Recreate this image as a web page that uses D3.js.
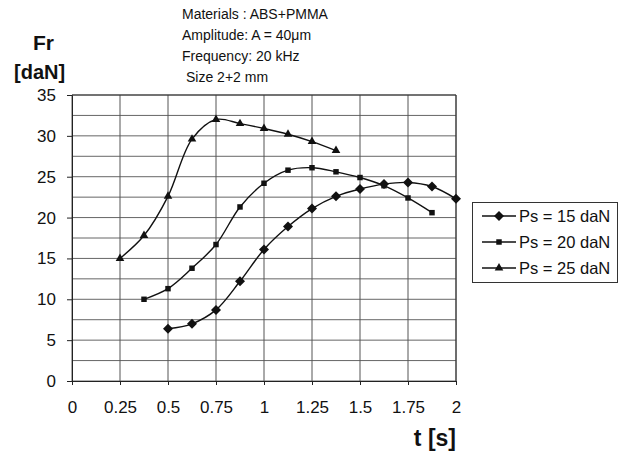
<!DOCTYPE html>
<html><head><meta charset="utf-8">
<script src="https://cdn.jsdelivr.net/npm/d3@7"></script>
<style>body{margin:0;background:#fff}svg{display:block}text{font-family:"Liberation Sans",Arial,sans-serif;fill:#111}</style>
</head><body><svg id="c" width="628" height="452"></svg>
<script>
const xTicks = [0, 0.25, 0.5, 0.75, 1, 1.25, 1.5, 1.75, 2];
const yTicks = [0, 5, 10, 15, 20, 25, 30, 35];
const seriesNames = ["Ps = 15 daN", "Ps = 20 daN", "Ps = 25 daN"];
const t15 = [0.5, 0.625, 0.75, 0.875, 1.0, 1.125, 1.25, 1.375, 1.5, 1.625, 1.75, 1.875, 2.0];
const f15 = [6.4, 7.0, 8.7, 12.2, 16.1, 18.9, 21.1, 22.6, 23.5, 24.1, 24.3, 23.8, 22.3];
const t20 = [0.375, 0.5, 0.625, 0.75, 0.875, 1.0, 1.125, 1.25, 1.375, 1.5, 1.625, 1.75, 1.875];
const f20 = [10.0, 11.3, 13.8, 16.7, 21.3, 24.2, 25.8, 26.1, 25.6, 24.9, 23.9, 22.4, 20.6];
const t25 = [0.25, 0.375, 0.5, 0.625, 0.75, 0.875, 1.0, 1.125, 1.25, 1.375];
const f25 = [15.0, 17.8, 22.6, 29.6, 32.0, 31.5, 30.9, 30.2, 29.3, 28.2];
const titleLines = ["Materials : ABS+PMMA", "Amplitude: A = 40\u03bcm", "Frequency: 20 kHz", "Size 2+2 mm"];

const svg = d3.select("#c");
const x = d3.scaleLinear().domain([0, 2]).range([72, 456]);
const y = d3.scaleLinear().domain([0, 35]).range([381, 95]);

// grid
const g = svg.append("g");
g.selectAll(".hg").data(d3.range(0, 35.01, 2.5)).join("line")
  .attr("x1", x(0)).attr("x2", x(2)).attr("y1", d => y(d)).attr("y2", d => y(d))
  .attr("stroke", "#666").attr("stroke-width", 1);
g.selectAll(".vg").data(xTicks).join("line")
  .attr("y1", y(0)).attr("y2", y(35)).attr("x1", d => x(d)).attr("x2", d => x(d))
  .attr("stroke", "#555").attr("stroke-width", 1);

// axes
const yAxis = d3.axisLeft(y).tickValues(yTicks).tickSize(5).tickPadding(11);
const ya = svg.append("g").attr("transform", `translate(${x(0)},0)`).call(yAxis);
const xAxis = d3.axisBottom(x).tickValues(xTicks).tickSize(4).tickPadding(16)
  .tickFormat(d => d3.format("")(d));
const xa = svg.append("g").attr("transform", `translate(0,${y(0)})`).call(xAxis);
[ya, xa].forEach(a => {
  a.select(".domain").attr("stroke", "#222");
  a.selectAll(".tick line").attr("stroke", "#222");
  a.selectAll("text").style("font-size", "17px").style("font-family", "Liberation Sans, Arial, sans-serif").attr("fill", "#111");
});
svg.append("line").attr("x1", x(2)).attr("x2", x(2)).attr("y1", y(0)).attr("y2", y(35)).attr("stroke", "#333");
svg.append("line").attr("x1", x(0)).attr("x2", x(2)).attr("y1", y(35)).attr("y2", y(35)).attr("stroke", "#333");

// series
const diamond = d3.symbolSquare;
const data = [
  {t: t15, f: f15, sym: diamond, size: 50, rot: 45},
  {t: t20, f: f20, sym: d3.symbolSquare, size: 30, rot: 0},
  {t: t25, f: f25, sym: d3.symbolTriangle, size: 32, rot: 0}
];
const line = d3.line().x(d => x(d[0])).y(d => y(d[1])).curve(d3.curveCatmullRom.alpha(0.5));
data.forEach(s => {
  const pts = s.t.map((t, i) => [t, s.f[i]]);
  svg.append("path").datum(pts).attr("d", line).attr("fill", "none").attr("stroke", "#111").attr("stroke-width", 1.4);
  svg.append("g").selectAll("path").data(pts).join("path")
    .attr("transform", d => `translate(${x(d[0])},${y(d[1])}) rotate(${s.rot})`)
    .attr("d", d3.symbol().type(s.sym).size(s.size)).attr("fill", "#111");
});

// legend
const lg = svg.append("g");
lg.append("rect").attr("x", 472.5).attr("y", 202.5).attr("width", 145).attr("height", 80)
  .attr("fill", "#fff").attr("stroke", "#333");
seriesNames.forEach((n, i) => {
  const yy = 216 + i * 26;
  lg.append("line").attr("x1", 482).attr("x2", 516).attr("y1", yy).attr("y2", yy).attr("stroke", "#111").attr("stroke-width", 1.4);
  lg.append("path").attr("transform", `translate(499,${yy}) rotate(${data[i].rot})`)
    .attr("d", d3.symbol().type(data[i].sym).size(data[i].size)).attr("fill", "#111");
  lg.append("text").attr("x", 519).attr("y", yy + 6).style("font-size", "16.5px").text(n);
});

// title block
titleLines.forEach((tl, i) => {
  svg.append("text").attr("x", i === 3 ? 186 : 182).attr("y", 19 + i * 21)
    .style("font-size", "14px").text(tl);
});
svg.append("text").attr("x", 33).attr("y", 50).style("font-size", "21px").attr("font-weight", "bold").text("Fr");
svg.append("text").attr("x", 14).attr("y", 79).style("font-size", "20px").attr("font-weight", "bold").text("[daN]");
svg.append("text").attr("x", 456).attr("y", 446).attr("text-anchor", "end").style("font-size", "23px").attr("font-weight", "bold").text("t [s]");
</script></body></html>
